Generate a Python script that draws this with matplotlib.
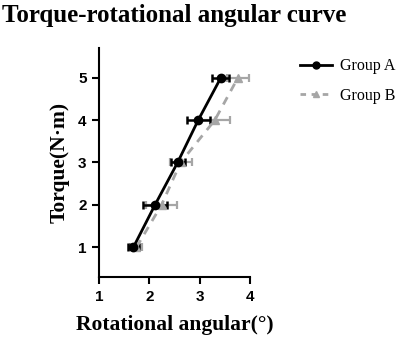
import matplotlib
matplotlib.use("Agg")
import matplotlib.pyplot as plt
from matplotlib.lines import Line2D

torque = [1, 2, 3, 4, 5]
angle_a = [1.68, 2.11, 2.56, 2.97, 3.42]
err_a = [0.11, 0.24, 0.14, 0.23, 0.17]
angle_b = [1.74, 2.24, 2.62, 3.30, 3.76]
err_b = [0.12, 0.31, 0.22, 0.30, 0.21]

serif = "Liberation Serif"
sans = "Liberation Sans"
gray = "#a6a6a6"

fig = plt.figure(figsize=(4.08, 3.42), dpi=100)
ax = fig.add_axes([0.243, 0.19, 0.37, 0.67])

ax.errorbar(angle_b, torque, xerr=err_b, color=gray, ls=(0, (3, 2.5)), lw=2,
            marker="^", ms=6, capsize=3, elinewidth=1.6, capthick=1.6)
ax.errorbar(angle_a, torque, xerr=err_a, color="black", ls="-", lw=2,
            marker="o", ms=6, capsize=3, elinewidth=1.8, capthick=1.8)

ax.set_xlim(1, 4)
ax.set_ylim(0.3, 5.7)
ax.set_xticks([1, 2, 3, 4])
ax.set_yticks([1, 2, 3, 4, 5])
for s in ["top", "right"]:
    ax.spines[s].set_visible(False)
for s in ["left", "bottom"]:
    ax.spines[s].set_linewidth(1.5)
ax.tick_params(width=1.5, length=5, labelsize=11, pad=4)
for lab in ax.get_xticklabels() + ax.get_yticklabels():
    lab.set_fontfamily(sans)
    lab.set_fontweight("bold")

ax.set_xlabel("Rotational angular(°)", fontfamily=serif, fontweight="bold", fontsize=15.5, labelpad=8)
ax.set_ylabel("Torque(N·m)", fontfamily=serif, fontweight="bold", fontsize=15.5, labelpad=6)

handles = [Line2D([], [], color="black", lw=2, marker="o", ms=5),
           Line2D([], [], color=gray, lw=2, ls=(0, (2, 2)), marker="^", ms=5)]
fig.legend(handles, ["Group A", "Group B"], loc="upper left", bbox_to_anchor=(0.735, 0.83),
           frameon=False, prop={"family": serif, "size": 11.5}, handlelength=2.0,
           handletextpad=0.5, labelspacing=0.85, borderaxespad=0, borderpad=0)

fig.text(0.005, 0.955, "Torque-rotational angular curve", fontfamily=serif,
         fontweight="bold", fontsize=18, ha="left", va="center")

fig.savefig("out.png", dpi=100)
